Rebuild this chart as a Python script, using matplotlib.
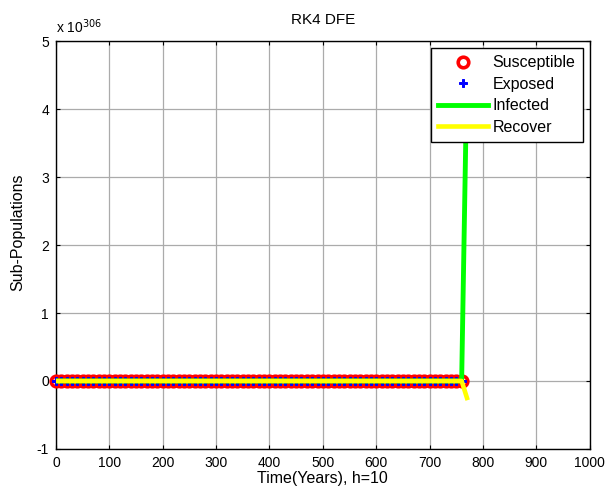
import numpy as np
import matplotlib
matplotlib.use("Agg")
import matplotlib.pyplot as plt

plt.rcParams['font.family'] = ['Liberation Sans', 'DejaVu Sans']
plt.rcParams['axes.unicode_minus'] = False

# Data (values in units of 1e306)
t = list(range(0, 770, 10)) + [770]          # time in years, h = 10
n = len(t)
susceptible = [0.0] * (n - 1)                 # shown up to 760
exposed = [0.0] * (n - 1)
infected = [0.0] * (n - 1) + [4.6]
recover = [0.0] * (n - 1) + [-0.25]
t_se = t[:-1]

xticks = list(range(0, 1001, 100))
yticks = [-1, 0, 1, 2, 3, 4, 5]

fig = plt.figure(figsize=(6.08, 4.95), dpi=100)
ax = fig.add_axes([0.092, 0.093, 0.878, 0.824])

ax.plot(t_se, susceptible, linestyle='none', marker='o', markersize=7.6,
        markerfacecolor='none', markeredgecolor='red', markeredgewidth=2.6,
        label='Susceptible', zorder=3, clip_on=False)
ax.plot(t_se, exposed, linestyle='none', marker='P', markersize=6.0,
        color='blue', markeredgecolor='blue', markeredgewidth=0.7,
        label='Exposed', zorder=4, clip_on=False)
ax.plot(t, infected, color='#00ff00', linewidth=3.5, label='Infected', zorder=5)
ax.plot(t, recover, color='yellow', linewidth=3.3, label='Recover', zorder=6)

ax.set_xlim(0, 1000)
ax.set_ylim(-1, 5)
ax.set_xticks(xticks)
ax.set_yticks(yticks)
ax.tick_params(direction='in', length=3, width=0.8, top=True, right=True,
               labelsize=10, pad=5, colors='black')
ax.grid(True, color='#ababab', linewidth=0.9, linestyle='-')
ax.set_axisbelow(True)
for s in ax.spines.values():
    s.set_linewidth(1.0)
    s.set_color('black')

ax.set_title('RK4 DFE', fontsize=11, pad=12)
ax.set_xlabel('Time(Years), h=10', fontsize=11.5, labelpad=1)
ax.set_ylabel('Sub-Populations', fontsize=11.5)
ax.yaxis.set_label_coords(-0.058, 0.531)

fig.text(0.092, 1 - 33 / 495, r'x 10$^{306}$', fontsize=10, ha='left', va='baseline')

leg = ax.legend(loc='upper right', fontsize=11.5, frameon=True, fancybox=False,
                framealpha=1, edgecolor='black', handlelength=3.1,
                borderaxespad=0.45, labelspacing=0.4, handletextpad=0.3,
                borderpad=0.45)
leg.get_frame().set_linewidth(1.0)

fig.savefig('out.png', dpi=100)
